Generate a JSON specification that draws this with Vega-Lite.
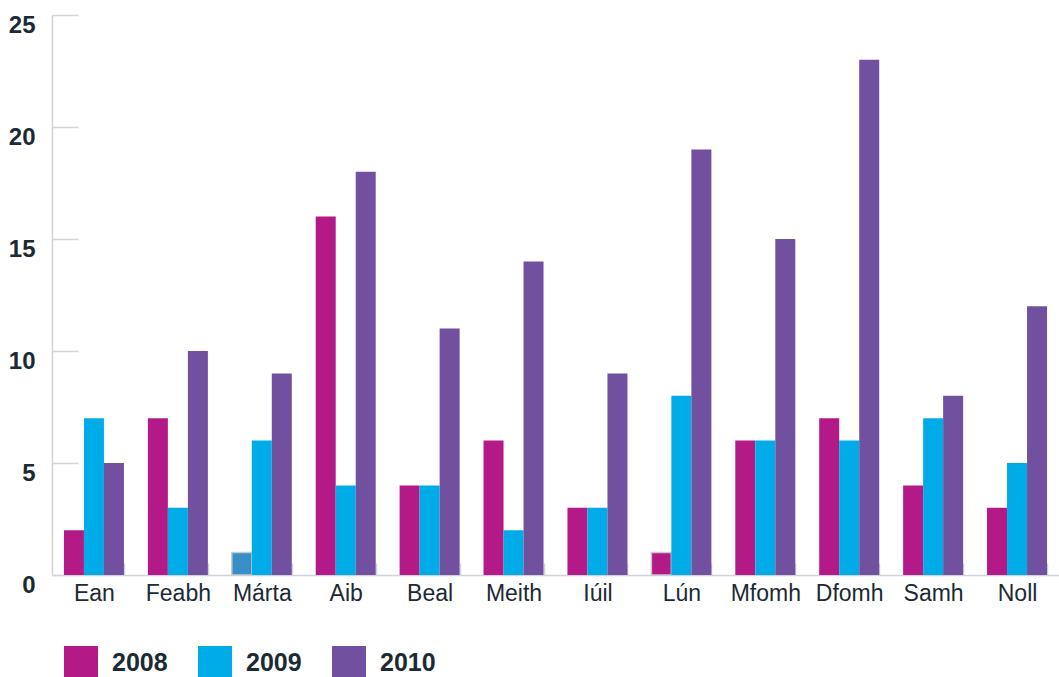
{
  "$schema": "https://vega.github.io/schema/vega-lite/v6.json",
  "width": 1007,
  "height": 560,
  "autosize": {"type": "none"},
  "padding": {"left": 52, "top": 15, "right": 0, "bottom": 102},
  "background": "white",
  "config": {"view": {"stroke": null}, "font": "Liberation Sans"},
  "data": {
    "values": [
      {"month": "Ean", "year": "2008", "value": 2}, {"month": "Ean", "year": "2009", "value": 7}, {"month": "Ean", "year": "2010", "value": 5},
      {"month": "Feabh", "year": "2008", "value": 7}, {"month": "Feabh", "year": "2009", "value": 3}, {"month": "Feabh", "year": "2010", "value": 10},
      {"month": "Márta", "year": "2008", "value": 1}, {"month": "Márta", "year": "2009", "value": 6}, {"month": "Márta", "year": "2010", "value": 9},
      {"month": "Aib", "year": "2008", "value": 16}, {"month": "Aib", "year": "2009", "value": 4}, {"month": "Aib", "year": "2010", "value": 18},
      {"month": "Beal", "year": "2008", "value": 4}, {"month": "Beal", "year": "2009", "value": 4}, {"month": "Beal", "year": "2010", "value": 11},
      {"month": "Meith", "year": "2008", "value": 6}, {"month": "Meith", "year": "2009", "value": 2}, {"month": "Meith", "year": "2010", "value": 14},
      {"month": "Iúil", "year": "2008", "value": 3}, {"month": "Iúil", "year": "2009", "value": 3}, {"month": "Iúil", "year": "2010", "value": 9},
      {"month": "Lún", "year": "2008", "value": 1}, {"month": "Lún", "year": "2009", "value": 8}, {"month": "Lún", "year": "2010", "value": 19},
      {"month": "Mfomh", "year": "2008", "value": 6}, {"month": "Mfomh", "year": "2009", "value": 6}, {"month": "Mfomh", "year": "2010", "value": 15},
      {"month": "Dfomh", "year": "2008", "value": 7}, {"month": "Dfomh", "year": "2009", "value": 6}, {"month": "Dfomh", "year": "2010", "value": 23},
      {"month": "Samh", "year": "2008", "value": 4}, {"month": "Samh", "year": "2009", "value": 7}, {"month": "Samh", "year": "2010", "value": 8},
      {"month": "Noll", "year": "2008", "value": 3}, {"month": "Noll", "year": "2009", "value": 5}, {"month": "Noll", "year": "2010", "value": 12}
    ]
  },
  "mark": {"type": "bar", "strokeWidth": 1.5},
  "encoding": {
    "x": {
      "field": "month",
      "type": "nominal",
      "sort": ["Ean", "Feabh", "Márta", "Aib", "Beal", "Meith", "Iúil", "Lún", "Mfomh", "Dfomh", "Samh", "Noll"],
      "scale": {"paddingInner": 0.285, "paddingOuter": 0.1425},
      "axis": {
        "title": null,
        "labelAngle": 0,
        "labelOverlap": false,
        "labelFontSize": 23,
        "labelColor": "#1b2a33",
        "labelPadding": 19,
        "ticks": true,
        "tickBand": "extent",
        "tickSize": -12,
        "tickColor": "#d0d4d8",
        "tickWidth": 1.5,
        "domainColor": "#d0d4d8",
        "domainWidth": 1.5
      }
    },
    "xOffset": {"field": "year", "type": "nominal", "scale": {"paddingInner": 0, "paddingOuter": 0}},
    "y": {
      "field": "value",
      "type": "quantitative",
      "scale": {"domain": [0, 25], "nice": false},
      "axis": {
        "title": null,
        "values": [0, 5, 10, 15, 20, 25],
        "grid": false,
        "ticks": true,
        "tickSize": -26,
        "tickColor": "#d0d4d8",
        "tickWidth": 1.5,
        "domainColor": "#d0d4d8",
        "domainWidth": 1.5,
        "labelFontSize": 24,
        "labelFontWeight": "bold",
        "labelColor": "#1b2a33",
        "labelPadding": 43,
        "labelBaseline": "top",
        "labelOffset": -2,
        "labelFlush": false
      }
    },
    "color": {
      "condition": {"test": "datum.month === 'Márta' && datum.year === '2008'", "value": "#3a8ec8"},
      "field": "year",
      "type": "nominal",
      "scale": {"domain": ["2008", "2009", "2010"], "range": ["#b41a87", "#00ace8", "#7150a0"]},
      "legend": {
        "orient": "none",
        "legendX": 12,
        "legendY": 631,
        "direction": "horizontal",
        "title": null,
        "symbolType": "square",
        "symbolSize": 1156,
        "symbolStrokeWidth": 0,
        "symbolOpacity": 1,
        "labelFontSize": 25,
        "labelFontWeight": "bold",
        "labelColor": "#1b2a33",
        "labelOffset": 14,
        "columnPadding": 30,
        "padding": 0
      }
    },
    "stroke": {
      "condition": {"test": "datum.value === 1", "value": "#c5cbd0"},
      "value": null
    }
  }
}
